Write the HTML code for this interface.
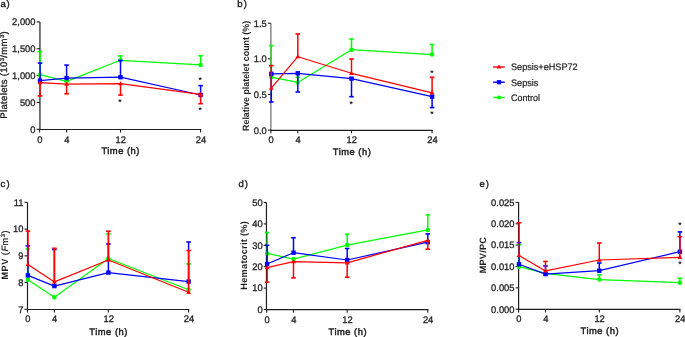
<!DOCTYPE html>
<html><head><meta charset="utf-8"><style>
html,body{margin:0;padding:0;background:#fff;overflow:hidden;}
svg{display:block;font-family:"Liberation Sans",sans-serif;text-rendering:geometricPrecision;will-change:transform;}
</style></head><body>
<svg width="685" height="337" viewBox="0 0 685 337">
<rect width="685" height="337" fill="#fff"/>
<text x="0.55" y="6.70" font-size="9.5" fill="#1e1e1e" stroke="#1e1e1e" stroke-width="0.4">a</text>
<text x="6.60" y="6.70" font-size="9.5" fill="#1e1e1e" stroke="#1e1e1e" stroke-width="0.35">)</text>
<line x1="39.95" y1="21.90" x2="39.95" y2="130.10" stroke="#1e1e1e" stroke-width="1.2" stroke-linecap="butt"/>
<line x1="39.35" y1="129.50" x2="201.20" y2="129.50" stroke="#1e1e1e" stroke-width="1.2" stroke-linecap="butt"/>
<line x1="36.60" y1="129.30" x2="39.95" y2="129.30" stroke="#1e1e1e" stroke-width="1.1" stroke-linecap="butt"/>
<text x="35.50" y="132.60" font-size="9.5" text-anchor="end" fill="#1e1e1e" textLength="5.2" lengthAdjust="spacingAndGlyphs" stroke="#1e1e1e" stroke-width="0.3">0</text>
<line x1="36.60" y1="102.45" x2="39.95" y2="102.45" stroke="#1e1e1e" stroke-width="1.1" stroke-linecap="butt"/>
<text x="35.50" y="105.75" font-size="9.5" text-anchor="end" fill="#1e1e1e" textLength="15.61" lengthAdjust="spacingAndGlyphs" stroke="#1e1e1e" stroke-width="0.3">500</text>
<line x1="36.60" y1="75.60" x2="39.95" y2="75.60" stroke="#1e1e1e" stroke-width="1.1" stroke-linecap="butt"/>
<text x="35.50" y="78.90" font-size="9.5" text-anchor="end" fill="#1e1e1e" textLength="23.41" lengthAdjust="spacingAndGlyphs" stroke="#1e1e1e" stroke-width="0.3">1,000</text>
<line x1="36.60" y1="48.75" x2="39.95" y2="48.75" stroke="#1e1e1e" stroke-width="1.1" stroke-linecap="butt"/>
<text x="35.50" y="52.05" font-size="9.5" text-anchor="end" fill="#1e1e1e" textLength="23.41" lengthAdjust="spacingAndGlyphs" stroke="#1e1e1e" stroke-width="0.3">1,500</text>
<line x1="36.60" y1="21.90" x2="39.95" y2="21.90" stroke="#1e1e1e" stroke-width="1.1" stroke-linecap="butt"/>
<text x="35.50" y="25.20" font-size="9.5" text-anchor="end" fill="#1e1e1e" textLength="23.41" lengthAdjust="spacingAndGlyphs" stroke="#1e1e1e" stroke-width="0.3">2,000</text>
<line x1="39.60" y1="129.30" x2="39.60" y2="132.50" stroke="#1e1e1e" stroke-width="1.1" stroke-linecap="butt"/>
<text x="39.90" y="142.80" font-size="9.5" text-anchor="middle" fill="#1e1e1e" textLength="5.2" lengthAdjust="spacingAndGlyphs" stroke="#1e1e1e" stroke-width="0.3">0</text>
<line x1="66.60" y1="129.30" x2="66.60" y2="132.50" stroke="#1e1e1e" stroke-width="1.1" stroke-linecap="butt"/>
<text x="66.90" y="142.80" font-size="9.5" text-anchor="middle" fill="#1e1e1e" textLength="5.2" lengthAdjust="spacingAndGlyphs" stroke="#1e1e1e" stroke-width="0.3">4</text>
<line x1="120.50" y1="129.30" x2="120.50" y2="132.50" stroke="#1e1e1e" stroke-width="1.1" stroke-linecap="butt"/>
<text x="120.80" y="142.80" font-size="9.5" text-anchor="middle" fill="#1e1e1e" textLength="10.41" lengthAdjust="spacingAndGlyphs" stroke="#1e1e1e" stroke-width="0.3">12</text>
<line x1="200.60" y1="129.30" x2="200.60" y2="132.50" stroke="#1e1e1e" stroke-width="1.1" stroke-linecap="butt"/>
<text x="200.90" y="142.80" font-size="9.5" text-anchor="middle" fill="#1e1e1e" textLength="10.41" lengthAdjust="spacingAndGlyphs" stroke="#1e1e1e" stroke-width="0.3">24</text>
<text x="120.40" y="154.20" font-size="9.4" text-anchor="middle" fill="#1e1e1e" textLength="38.0" lengthAdjust="spacing" stroke="#1e1e1e" stroke-width="0.45">Time (h)</text>
<text x="6.70" y="75.00" font-size="9.6" text-anchor="middle" fill="#1e1e1e" transform="rotate(-90 6.70 75.00)" textLength="87.5" lengthAdjust="spacing" stroke="#1e1e1e" stroke-width="0.3">Platelets (10<tspan font-size="6" dy="-3">3</tspan><tspan dy="3">/mm</tspan><tspan font-size="6" dy="-3">3</tspan><tspan dy="3">)</tspan></text>
<line x1="40.15" y1="74.70" x2="40.15" y2="51.50" stroke="#00ff00" stroke-width="1.3" stroke-linecap="butt"/>
<line x1="37.70" y1="51.50" x2="42.30" y2="51.50" stroke="#00ff00" stroke-width="1.6" stroke-linecap="butt"/>
<line x1="120.50" y1="60.30" x2="120.50" y2="55.90" stroke="#00ff00" stroke-width="1.5" stroke-linecap="butt"/>
<line x1="118.20" y1="55.90" x2="122.80" y2="55.90" stroke="#00ff00" stroke-width="1.6" stroke-linecap="butt"/>
<line x1="200.60" y1="64.90" x2="200.60" y2="55.70" stroke="#00ff00" stroke-width="1.5" stroke-linecap="butt"/>
<line x1="198.30" y1="55.70" x2="202.90" y2="55.70" stroke="#00ff00" stroke-width="1.6" stroke-linecap="butt"/>
<polyline points="40.00,74.70 66.60,81.40 120.50,60.30 200.60,64.90" fill="none" stroke="#00ff00" stroke-width="1.2" stroke-linejoin="round"/>
<circle cx="40.00" cy="74.70" r="2.25" fill="#00ff00"/>
<circle cx="66.60" cy="81.40" r="2.25" fill="#00ff00"/>
<circle cx="120.50" cy="60.30" r="2.25" fill="#00ff00"/>
<circle cx="200.60" cy="64.90" r="2.25" fill="#00ff00"/>
<line x1="40.15" y1="80.60" x2="40.15" y2="63.10" stroke="#0000ff" stroke-width="1.3" stroke-linecap="butt"/>
<line x1="37.70" y1="63.10" x2="42.30" y2="63.10" stroke="#0000ff" stroke-width="1.6" stroke-linecap="butt"/>
<line x1="66.60" y1="78.10" x2="66.60" y2="65.10" stroke="#0000ff" stroke-width="1.5" stroke-linecap="butt"/>
<line x1="64.30" y1="65.10" x2="68.90" y2="65.10" stroke="#0000ff" stroke-width="1.6" stroke-linecap="butt"/>
<line x1="120.50" y1="77.20" x2="120.50" y2="60.50" stroke="#0000ff" stroke-width="1.5" stroke-linecap="butt"/>
<line x1="118.20" y1="60.50" x2="122.80" y2="60.50" stroke="#0000ff" stroke-width="1.6" stroke-linecap="butt"/>
<line x1="200.60" y1="95.00" x2="200.60" y2="85.60" stroke="#0000ff" stroke-width="1.5" stroke-linecap="butt"/>
<line x1="198.30" y1="85.60" x2="202.90" y2="85.60" stroke="#0000ff" stroke-width="1.6" stroke-linecap="butt"/>
<polyline points="40.00,80.60 66.60,78.10 120.50,77.20 200.60,95.00" fill="none" stroke="#0000ff" stroke-width="1.2" stroke-linejoin="round"/>
<rect x="37.80" y="78.40" width="4.4" height="4.4" fill="#0000ff"/>
<rect x="64.40" y="75.90" width="4.4" height="4.4" fill="#0000ff"/>
<rect x="118.30" y="75.00" width="4.4" height="4.4" fill="#0000ff"/>
<rect x="198.40" y="92.80" width="4.4" height="4.4" fill="#0000ff"/>
<line x1="40.15" y1="82.70" x2="40.15" y2="95.90" stroke="#ff0000" stroke-width="1.3" stroke-linecap="butt"/>
<line x1="37.70" y1="95.90" x2="42.30" y2="95.90" stroke="#ff0000" stroke-width="1.6" stroke-linecap="butt"/>
<line x1="66.60" y1="84.20" x2="66.60" y2="93.80" stroke="#ff0000" stroke-width="1.5" stroke-linecap="butt"/>
<line x1="64.30" y1="93.80" x2="68.90" y2="93.80" stroke="#ff0000" stroke-width="1.6" stroke-linecap="butt"/>
<line x1="120.50" y1="83.70" x2="120.50" y2="95.10" stroke="#ff0000" stroke-width="1.5" stroke-linecap="butt"/>
<line x1="118.20" y1="95.10" x2="122.80" y2="95.10" stroke="#ff0000" stroke-width="1.6" stroke-linecap="butt"/>
<line x1="200.60" y1="94.30" x2="200.60" y2="103.70" stroke="#ff0000" stroke-width="1.5" stroke-linecap="butt"/>
<line x1="198.30" y1="103.70" x2="202.90" y2="103.70" stroke="#ff0000" stroke-width="1.6" stroke-linecap="butt"/>
<polyline points="40.00,82.70 66.60,84.20 120.50,83.70 200.60,94.30" fill="none" stroke="#ff0000" stroke-width="1.2" stroke-linejoin="round"/>
<polygon points="40.00,80.19 42.40,84.37 37.60,84.37" fill="#ff0000"/>
<polygon points="66.60,81.69 69.00,85.87 64.20,85.87" fill="#ff0000"/>
<polygon points="120.50,81.19 122.90,85.37 118.10,85.37" fill="#ff0000"/>
<polygon points="200.60,91.79 203.00,95.97 198.20,95.97" fill="#ff0000"/>
<text x="120.00" y="104.60" font-size="8.5" text-anchor="middle" font-weight="bold" fill="#1e1e1e">*</text>
<text x="200.10" y="83.30" font-size="8.5" text-anchor="middle" font-weight="bold" fill="#1e1e1e">*</text>
<text x="200.10" y="112.90" font-size="8.5" text-anchor="middle" font-weight="bold" fill="#1e1e1e">*</text>
<text x="237.25" y="6.70" font-size="9.5" fill="#1e1e1e" stroke="#1e1e1e" stroke-width="0.4">b</text>
<text x="243.70" y="6.70" font-size="9.5" fill="#1e1e1e" stroke="#1e1e1e" stroke-width="0.35">)</text>
<line x1="270.90" y1="23.21" x2="270.90" y2="130.90" stroke="#6a6a6a" stroke-width="1.2" stroke-linecap="butt"/>
<line x1="270.30" y1="130.30" x2="432.70" y2="130.30" stroke="#1e1e1e" stroke-width="1.2" stroke-linecap="butt"/>
<line x1="267.90" y1="130.10" x2="270.90" y2="130.10" stroke="#1e1e1e" stroke-width="1.1" stroke-linecap="butt"/>
<text x="266.80" y="133.70" font-size="9.5" text-anchor="end" fill="#1e1e1e" textLength="13.01" lengthAdjust="spacingAndGlyphs" stroke="#1e1e1e" stroke-width="0.3">0.0</text>
<line x1="267.90" y1="94.47" x2="270.90" y2="94.47" stroke="#1e1e1e" stroke-width="1.1" stroke-linecap="butt"/>
<text x="266.80" y="98.07" font-size="9.5" text-anchor="end" fill="#1e1e1e" textLength="13.01" lengthAdjust="spacingAndGlyphs" stroke="#1e1e1e" stroke-width="0.3">0.5</text>
<line x1="267.90" y1="58.84" x2="270.90" y2="58.84" stroke="#1e1e1e" stroke-width="1.1" stroke-linecap="butt"/>
<text x="266.80" y="62.44" font-size="9.5" text-anchor="end" fill="#1e1e1e" textLength="13.01" lengthAdjust="spacingAndGlyphs" stroke="#1e1e1e" stroke-width="0.3">1.0</text>
<line x1="267.90" y1="23.21" x2="270.90" y2="23.21" stroke="#1e1e1e" stroke-width="1.1" stroke-linecap="butt"/>
<text x="266.80" y="26.81" font-size="9.5" text-anchor="end" fill="#1e1e1e" textLength="13.01" lengthAdjust="spacingAndGlyphs" stroke="#1e1e1e" stroke-width="0.3">1.5</text>
<line x1="270.90" y1="130.10" x2="270.90" y2="133.30" stroke="#1e1e1e" stroke-width="1.1" stroke-linecap="butt"/>
<text x="271.20" y="143.30" font-size="9.5" text-anchor="middle" fill="#1e1e1e" textLength="5.2" lengthAdjust="spacingAndGlyphs" stroke="#1e1e1e" stroke-width="0.3">0</text>
<line x1="297.80" y1="130.10" x2="297.80" y2="133.30" stroke="#1e1e1e" stroke-width="1.1" stroke-linecap="butt"/>
<text x="298.10" y="143.30" font-size="9.5" text-anchor="middle" fill="#1e1e1e" textLength="5.2" lengthAdjust="spacingAndGlyphs" stroke="#1e1e1e" stroke-width="0.3">4</text>
<line x1="351.50" y1="130.10" x2="351.50" y2="133.30" stroke="#1e1e1e" stroke-width="1.1" stroke-linecap="butt"/>
<text x="351.80" y="143.30" font-size="9.5" text-anchor="middle" fill="#1e1e1e" textLength="10.41" lengthAdjust="spacingAndGlyphs" stroke="#1e1e1e" stroke-width="0.3">12</text>
<line x1="432.10" y1="130.10" x2="432.10" y2="133.30" stroke="#1e1e1e" stroke-width="1.1" stroke-linecap="butt"/>
<text x="432.40" y="143.30" font-size="9.5" text-anchor="middle" fill="#1e1e1e" textLength="10.41" lengthAdjust="spacingAndGlyphs" stroke="#1e1e1e" stroke-width="0.3">24</text>
<text x="351.80" y="155.30" font-size="9.4" text-anchor="middle" fill="#1e1e1e" textLength="38.0" lengthAdjust="spacing" stroke="#1e1e1e" stroke-width="0.45">Time (h)</text>
<text x="248.80" y="75.90" font-size="9.2" text-anchor="middle" font-weight="bold" fill="#1e1e1e" transform="rotate(-90 248.80 75.90)" textLength="110" lengthAdjust="spacingAndGlyphs">Relative platelet count (%)</text>
<line x1="271.30" y1="77.10" x2="271.30" y2="45.70" stroke="#00ff00" stroke-width="1.5" stroke-linecap="butt"/>
<line x1="269.00" y1="45.70" x2="273.60" y2="45.70" stroke="#00ff00" stroke-width="1.6" stroke-linecap="butt"/>
<line x1="297.80" y1="82.40" x2="297.80" y2="77.30" stroke="#00ff00" stroke-width="1.5" stroke-linecap="butt"/>
<line x1="295.50" y1="77.30" x2="300.10" y2="77.30" stroke="#00ff00" stroke-width="1.6" stroke-linecap="butt"/>
<line x1="351.50" y1="49.70" x2="351.50" y2="39.00" stroke="#00ff00" stroke-width="1.5" stroke-linecap="butt"/>
<line x1="349.20" y1="39.00" x2="353.80" y2="39.00" stroke="#00ff00" stroke-width="1.6" stroke-linecap="butt"/>
<line x1="432.10" y1="54.60" x2="432.10" y2="44.50" stroke="#00ff00" stroke-width="1.5" stroke-linecap="butt"/>
<line x1="429.80" y1="44.50" x2="434.40" y2="44.50" stroke="#00ff00" stroke-width="1.6" stroke-linecap="butt"/>
<polyline points="271.30,77.10 297.80,82.40 351.50,49.70 432.10,54.60" fill="none" stroke="#00ff00" stroke-width="1.2" stroke-linejoin="round"/>
<circle cx="271.30" cy="77.10" r="2.25" fill="#00ff00"/>
<circle cx="297.80" cy="82.40" r="2.25" fill="#00ff00"/>
<circle cx="351.50" cy="49.70" r="2.25" fill="#00ff00"/>
<circle cx="432.10" cy="54.60" r="2.25" fill="#00ff00"/>
<line x1="271.30" y1="73.80" x2="271.30" y2="102.00" stroke="#0000ff" stroke-width="1.5" stroke-linecap="butt"/>
<line x1="269.00" y1="102.00" x2="273.60" y2="102.00" stroke="#0000ff" stroke-width="1.6" stroke-linecap="butt"/>
<line x1="297.80" y1="73.30" x2="297.80" y2="92.00" stroke="#0000ff" stroke-width="1.5" stroke-linecap="butt"/>
<line x1="295.50" y1="92.00" x2="300.10" y2="92.00" stroke="#0000ff" stroke-width="1.6" stroke-linecap="butt"/>
<line x1="351.50" y1="78.60" x2="351.50" y2="96.70" stroke="#0000ff" stroke-width="1.5" stroke-linecap="butt"/>
<line x1="349.20" y1="96.70" x2="353.80" y2="96.70" stroke="#0000ff" stroke-width="1.6" stroke-linecap="butt"/>
<line x1="432.10" y1="96.60" x2="432.10" y2="107.60" stroke="#0000ff" stroke-width="1.5" stroke-linecap="butt"/>
<line x1="429.80" y1="107.60" x2="434.40" y2="107.60" stroke="#0000ff" stroke-width="1.6" stroke-linecap="butt"/>
<polyline points="271.30,73.80 297.80,73.30 351.50,78.60 432.10,96.60" fill="none" stroke="#0000ff" stroke-width="1.2" stroke-linejoin="round"/>
<rect x="269.10" y="71.60" width="4.4" height="4.4" fill="#0000ff"/>
<rect x="295.60" y="71.10" width="4.4" height="4.4" fill="#0000ff"/>
<rect x="349.30" y="76.40" width="4.4" height="4.4" fill="#0000ff"/>
<rect x="429.90" y="94.40" width="4.4" height="4.4" fill="#0000ff"/>
<line x1="271.30" y1="88.20" x2="271.30" y2="65.60" stroke="#ff0000" stroke-width="1.5" stroke-linecap="butt"/>
<line x1="269.00" y1="65.60" x2="273.60" y2="65.60" stroke="#ff0000" stroke-width="1.6" stroke-linecap="butt"/>
<line x1="297.80" y1="56.70" x2="297.80" y2="34.00" stroke="#ff0000" stroke-width="1.5" stroke-linecap="butt"/>
<line x1="295.50" y1="34.00" x2="300.10" y2="34.00" stroke="#ff0000" stroke-width="1.6" stroke-linecap="butt"/>
<line x1="351.50" y1="73.30" x2="351.50" y2="59.00" stroke="#ff0000" stroke-width="1.5" stroke-linecap="butt"/>
<line x1="349.20" y1="59.00" x2="353.80" y2="59.00" stroke="#ff0000" stroke-width="1.6" stroke-linecap="butt"/>
<line x1="432.10" y1="92.80" x2="432.10" y2="77.30" stroke="#ff0000" stroke-width="1.5" stroke-linecap="butt"/>
<line x1="429.80" y1="77.30" x2="434.40" y2="77.30" stroke="#ff0000" stroke-width="1.6" stroke-linecap="butt"/>
<polyline points="271.30,88.20 297.80,56.70 351.50,73.30 432.10,92.80" fill="none" stroke="#ff0000" stroke-width="1.2" stroke-linejoin="round"/>
<polygon points="271.30,85.69 273.70,89.87 268.90,89.87" fill="#ff0000"/>
<polygon points="297.80,54.19 300.20,58.37 295.40,58.37" fill="#ff0000"/>
<polygon points="351.50,70.79 353.90,74.97 349.10,74.97" fill="#ff0000"/>
<polygon points="432.10,90.29 434.50,94.47 429.70,94.47" fill="#ff0000"/>
<text x="351.20" y="107.00" font-size="8.5" text-anchor="middle" font-weight="bold" fill="#1e1e1e">*</text>
<text x="431.80" y="76.10" font-size="8.5" text-anchor="middle" font-weight="bold" fill="#1e1e1e">*</text>
<text x="431.80" y="116.70" font-size="8.5" text-anchor="middle" font-weight="bold" fill="#1e1e1e">*</text>
<line x1="493.10" y1="67.00" x2="504.80" y2="67.00" stroke="#ff0000" stroke-width="1.4" stroke-linecap="butt"/>
<polygon points="499.00,64.61 501.30,68.60 496.70,68.60" fill="#ff0000"/>
<text x="511.00" y="70.00" font-size="9.4" fill="#222" textLength="66.6" lengthAdjust="spacingAndGlyphs" stroke="#222" stroke-width="0.2">Sepsis+eHSP72</text>
<line x1="493.10" y1="82.20" x2="504.80" y2="82.20" stroke="#0000ff" stroke-width="1.4" stroke-linecap="butt"/>
<rect x="496.90" y="80.10" width="4.2" height="4.2" fill="#0000ff"/>
<text x="511.00" y="85.80" font-size="9.4" fill="#222" textLength="27.4" lengthAdjust="spacingAndGlyphs" stroke="#222" stroke-width="0.2">Sepsis</text>
<line x1="493.10" y1="97.50" x2="504.80" y2="97.50" stroke="#00ff00" stroke-width="1.4" stroke-linecap="butt"/>
<circle cx="499.00" cy="97.50" r="2.10" fill="#00ff00"/>
<text x="511.00" y="101.20" font-size="9.4" fill="#222" textLength="29.0" lengthAdjust="spacingAndGlyphs" stroke="#222" stroke-width="0.2">Control</text>
<text x="0.55" y="186.70" font-size="9.5" fill="#1e1e1e" stroke="#1e1e1e" stroke-width="0.4">c</text>
<text x="6.60" y="186.70" font-size="9.5" fill="#1e1e1e" stroke="#1e1e1e" stroke-width="0.35">)</text>
<line x1="27.50" y1="202.38" x2="27.50" y2="310.10" stroke="#1e1e1e" stroke-width="1.2" stroke-linecap="butt"/>
<line x1="26.90" y1="309.50" x2="189.20" y2="309.50" stroke="#1e1e1e" stroke-width="1.2" stroke-linecap="butt"/>
<line x1="24.50" y1="309.30" x2="27.50" y2="309.30" stroke="#1e1e1e" stroke-width="1.1" stroke-linecap="butt"/>
<text x="23.40" y="312.60" font-size="9.5" text-anchor="end" fill="#1e1e1e" textLength="5.2" lengthAdjust="spacingAndGlyphs" stroke="#1e1e1e" stroke-width="0.3">7</text>
<line x1="24.50" y1="282.57" x2="27.50" y2="282.57" stroke="#1e1e1e" stroke-width="1.1" stroke-linecap="butt"/>
<text x="23.40" y="285.87" font-size="9.5" text-anchor="end" fill="#1e1e1e" textLength="5.2" lengthAdjust="spacingAndGlyphs" stroke="#1e1e1e" stroke-width="0.3">8</text>
<line x1="24.50" y1="255.84" x2="27.50" y2="255.84" stroke="#1e1e1e" stroke-width="1.1" stroke-linecap="butt"/>
<text x="23.40" y="259.14" font-size="9.5" text-anchor="end" fill="#1e1e1e" textLength="5.2" lengthAdjust="spacingAndGlyphs" stroke="#1e1e1e" stroke-width="0.3">9</text>
<line x1="24.50" y1="229.11" x2="27.50" y2="229.11" stroke="#1e1e1e" stroke-width="1.1" stroke-linecap="butt"/>
<text x="23.40" y="232.41" font-size="9.5" text-anchor="end" fill="#1e1e1e" textLength="10.41" lengthAdjust="spacingAndGlyphs" stroke="#1e1e1e" stroke-width="0.3">10</text>
<line x1="24.50" y1="202.38" x2="27.50" y2="202.38" stroke="#1e1e1e" stroke-width="1.1" stroke-linecap="butt"/>
<text x="23.40" y="205.68" font-size="9.5" text-anchor="end" fill="#1e1e1e" textLength="9.71" lengthAdjust="spacingAndGlyphs" stroke="#1e1e1e" stroke-width="0.3">11</text>
<line x1="27.50" y1="309.30" x2="27.50" y2="312.50" stroke="#1e1e1e" stroke-width="1.1" stroke-linecap="butt"/>
<text x="27.80" y="322.40" font-size="9.5" text-anchor="middle" fill="#1e1e1e" textLength="5.2" lengthAdjust="spacingAndGlyphs" stroke="#1e1e1e" stroke-width="0.3">0</text>
<line x1="54.40" y1="309.30" x2="54.40" y2="312.50" stroke="#1e1e1e" stroke-width="1.1" stroke-linecap="butt"/>
<text x="54.70" y="322.40" font-size="9.5" text-anchor="middle" fill="#1e1e1e" textLength="5.2" lengthAdjust="spacingAndGlyphs" stroke="#1e1e1e" stroke-width="0.3">4</text>
<line x1="108.40" y1="309.30" x2="108.40" y2="312.50" stroke="#1e1e1e" stroke-width="1.1" stroke-linecap="butt"/>
<text x="108.70" y="322.40" font-size="9.5" text-anchor="middle" fill="#1e1e1e" textLength="10.41" lengthAdjust="spacingAndGlyphs" stroke="#1e1e1e" stroke-width="0.3">12</text>
<line x1="188.60" y1="309.30" x2="188.60" y2="312.50" stroke="#1e1e1e" stroke-width="1.1" stroke-linecap="butt"/>
<text x="188.90" y="322.40" font-size="9.5" text-anchor="middle" fill="#1e1e1e" textLength="10.41" lengthAdjust="spacingAndGlyphs" stroke="#1e1e1e" stroke-width="0.3">24</text>
<text x="108.35" y="334.50" font-size="9.4" text-anchor="middle" fill="#1e1e1e" textLength="38.0" lengthAdjust="spacing" stroke="#1e1e1e" stroke-width="0.45">Time (h)</text>
<text x="7.60" y="255.00" font-size="9.2" text-anchor="middle" font-weight="bold" fill="#1e1e1e" transform="rotate(-90 7.60 255.00)" textLength="49.1" lengthAdjust="spacing">MPV <tspan font-weight="normal" stroke="#1e1e1e" stroke-width="0.25">(<tspan font-style="italic">F</tspan>m<tspan font-size="6" dy="-3">3</tspan><tspan dy="3">)</tspan></tspan></text>
<line x1="28.05" y1="279.70" x2="28.05" y2="248.90" stroke="#00ff00" stroke-width="1.3" stroke-linecap="butt"/>
<line x1="25.60" y1="248.90" x2="30.20" y2="248.90" stroke="#00ff00" stroke-width="1.6" stroke-linecap="butt"/>
<line x1="108.40" y1="258.50" x2="108.40" y2="233.90" stroke="#00ff00" stroke-width="1.5" stroke-linecap="butt"/>
<line x1="106.10" y1="233.90" x2="110.70" y2="233.90" stroke="#00ff00" stroke-width="1.6" stroke-linecap="butt"/>
<line x1="188.60" y1="289.80" x2="188.60" y2="264.00" stroke="#00ff00" stroke-width="1.5" stroke-linecap="butt"/>
<line x1="186.30" y1="264.00" x2="190.90" y2="264.00" stroke="#00ff00" stroke-width="1.6" stroke-linecap="butt"/>
<polyline points="27.90,279.70 54.40,297.20 108.40,258.50 188.60,289.80" fill="none" stroke="#00ff00" stroke-width="1.2" stroke-linejoin="round"/>
<circle cx="27.90" cy="279.70" r="2.25" fill="#00ff00"/>
<circle cx="54.40" cy="297.20" r="2.25" fill="#00ff00"/>
<circle cx="108.40" cy="258.50" r="2.25" fill="#00ff00"/>
<circle cx="188.60" cy="289.80" r="2.25" fill="#00ff00"/>
<line x1="28.05" y1="275.40" x2="28.05" y2="245.90" stroke="#0000ff" stroke-width="1.3" stroke-linecap="butt"/>
<line x1="25.60" y1="245.90" x2="30.20" y2="245.90" stroke="#0000ff" stroke-width="1.6" stroke-linecap="butt"/>
<line x1="54.40" y1="286.10" x2="54.40" y2="249.50" stroke="#0000ff" stroke-width="1.5" stroke-linecap="butt"/>
<line x1="52.10" y1="249.50" x2="56.70" y2="249.50" stroke="#0000ff" stroke-width="1.6" stroke-linecap="butt"/>
<line x1="108.40" y1="272.60" x2="108.40" y2="244.00" stroke="#0000ff" stroke-width="1.5" stroke-linecap="butt"/>
<line x1="106.10" y1="244.00" x2="110.70" y2="244.00" stroke="#0000ff" stroke-width="1.6" stroke-linecap="butt"/>
<line x1="188.60" y1="281.60" x2="188.60" y2="242.00" stroke="#0000ff" stroke-width="1.5" stroke-linecap="butt"/>
<line x1="186.30" y1="242.00" x2="190.90" y2="242.00" stroke="#0000ff" stroke-width="1.6" stroke-linecap="butt"/>
<polyline points="27.90,275.40 54.40,286.10 108.40,272.60 188.60,281.60" fill="none" stroke="#0000ff" stroke-width="1.2" stroke-linejoin="round"/>
<rect x="25.70" y="273.20" width="4.4" height="4.4" fill="#0000ff"/>
<rect x="52.20" y="283.90" width="4.4" height="4.4" fill="#0000ff"/>
<rect x="106.20" y="270.40" width="4.4" height="4.4" fill="#0000ff"/>
<rect x="186.40" y="279.40" width="4.4" height="4.4" fill="#0000ff"/>
<line x1="28.05" y1="264.50" x2="28.05" y2="231.10" stroke="#ff0000" stroke-width="1.3" stroke-linecap="butt"/>
<line x1="25.60" y1="231.10" x2="30.20" y2="231.10" stroke="#ff0000" stroke-width="1.6" stroke-linecap="butt"/>
<line x1="54.40" y1="281.90" x2="54.40" y2="248.30" stroke="#ff0000" stroke-width="1.5" stroke-linecap="butt"/>
<line x1="52.10" y1="248.30" x2="56.70" y2="248.30" stroke="#ff0000" stroke-width="1.6" stroke-linecap="butt"/>
<line x1="108.40" y1="260.00" x2="108.40" y2="231.20" stroke="#ff0000" stroke-width="1.5" stroke-linecap="butt"/>
<line x1="106.10" y1="231.20" x2="110.70" y2="231.20" stroke="#ff0000" stroke-width="1.6" stroke-linecap="butt"/>
<line x1="188.60" y1="292.30" x2="188.60" y2="250.50" stroke="#ff0000" stroke-width="1.5" stroke-linecap="butt"/>
<line x1="186.30" y1="250.50" x2="190.90" y2="250.50" stroke="#ff0000" stroke-width="1.6" stroke-linecap="butt"/>
<polyline points="27.90,264.50 54.40,281.90 108.40,260.00 188.60,292.30" fill="none" stroke="#ff0000" stroke-width="1.2" stroke-linejoin="round"/>
<polygon points="27.90,261.99 30.30,266.17 25.50,266.17" fill="#ff0000"/>
<polygon points="54.40,279.39 56.80,283.57 52.00,283.57" fill="#ff0000"/>
<polygon points="108.40,257.49 110.80,261.67 106.00,261.67" fill="#ff0000"/>
<polygon points="188.60,289.79 191.00,293.97 186.20,293.97" fill="#ff0000"/>
<text x="238.55" y="186.70" font-size="9.5" fill="#1e1e1e" stroke="#1e1e1e" stroke-width="0.4">d</text>
<text x="244.80" y="186.70" font-size="9.5" fill="#1e1e1e" stroke="#1e1e1e" stroke-width="0.35">)</text>
<line x1="266.45" y1="202.50" x2="266.45" y2="310.30" stroke="#1e1e1e" stroke-width="1.2" stroke-linecap="butt"/>
<line x1="265.85" y1="309.70" x2="428.40" y2="309.70" stroke="#1e1e1e" stroke-width="1.2" stroke-linecap="butt"/>
<line x1="263.70" y1="309.50" x2="266.45" y2="309.50" stroke="#1e1e1e" stroke-width="1.1" stroke-linecap="butt"/>
<text x="262.60" y="312.80" font-size="9.5" text-anchor="end" fill="#1e1e1e" textLength="5.2" lengthAdjust="spacingAndGlyphs" stroke="#1e1e1e" stroke-width="0.3">0</text>
<line x1="263.70" y1="288.10" x2="266.45" y2="288.10" stroke="#1e1e1e" stroke-width="1.1" stroke-linecap="butt"/>
<text x="262.60" y="291.40" font-size="9.5" text-anchor="end" fill="#1e1e1e" textLength="10.41" lengthAdjust="spacingAndGlyphs" stroke="#1e1e1e" stroke-width="0.3">10</text>
<line x1="263.70" y1="266.70" x2="266.45" y2="266.70" stroke="#1e1e1e" stroke-width="1.1" stroke-linecap="butt"/>
<text x="262.60" y="270.00" font-size="9.5" text-anchor="end" fill="#1e1e1e" textLength="10.41" lengthAdjust="spacingAndGlyphs" stroke="#1e1e1e" stroke-width="0.3">20</text>
<line x1="263.70" y1="245.30" x2="266.45" y2="245.30" stroke="#1e1e1e" stroke-width="1.1" stroke-linecap="butt"/>
<text x="262.60" y="248.60" font-size="9.5" text-anchor="end" fill="#1e1e1e" textLength="10.41" lengthAdjust="spacingAndGlyphs" stroke="#1e1e1e" stroke-width="0.3">30</text>
<line x1="263.70" y1="223.90" x2="266.45" y2="223.90" stroke="#1e1e1e" stroke-width="1.1" stroke-linecap="butt"/>
<text x="262.60" y="227.20" font-size="9.5" text-anchor="end" fill="#1e1e1e" textLength="10.41" lengthAdjust="spacingAndGlyphs" stroke="#1e1e1e" stroke-width="0.3">40</text>
<line x1="263.70" y1="202.50" x2="266.45" y2="202.50" stroke="#1e1e1e" stroke-width="1.1" stroke-linecap="butt"/>
<text x="262.60" y="205.80" font-size="9.5" text-anchor="end" fill="#1e1e1e" textLength="10.41" lengthAdjust="spacingAndGlyphs" stroke="#1e1e1e" stroke-width="0.3">50</text>
<line x1="266.70" y1="309.50" x2="266.70" y2="312.70" stroke="#1e1e1e" stroke-width="1.1" stroke-linecap="butt"/>
<text x="267.00" y="322.60" font-size="9.5" text-anchor="middle" fill="#1e1e1e" textLength="5.2" lengthAdjust="spacingAndGlyphs" stroke="#1e1e1e" stroke-width="0.3">0</text>
<line x1="293.50" y1="309.50" x2="293.50" y2="312.70" stroke="#1e1e1e" stroke-width="1.1" stroke-linecap="butt"/>
<text x="293.80" y="322.60" font-size="9.5" text-anchor="middle" fill="#1e1e1e" textLength="5.2" lengthAdjust="spacingAndGlyphs" stroke="#1e1e1e" stroke-width="0.3">4</text>
<line x1="347.20" y1="309.50" x2="347.20" y2="312.70" stroke="#1e1e1e" stroke-width="1.1" stroke-linecap="butt"/>
<text x="347.50" y="322.60" font-size="9.5" text-anchor="middle" fill="#1e1e1e" textLength="10.41" lengthAdjust="spacingAndGlyphs" stroke="#1e1e1e" stroke-width="0.3">12</text>
<line x1="427.80" y1="309.50" x2="427.80" y2="312.70" stroke="#1e1e1e" stroke-width="1.1" stroke-linecap="butt"/>
<text x="428.10" y="322.60" font-size="9.5" text-anchor="middle" fill="#1e1e1e" textLength="10.41" lengthAdjust="spacingAndGlyphs" stroke="#1e1e1e" stroke-width="0.3">24</text>
<text x="347.55" y="334.70" font-size="9.4" text-anchor="middle" fill="#1e1e1e" textLength="38.0" lengthAdjust="spacing" stroke="#1e1e1e" stroke-width="0.45">Time (h)</text>
<text x="247.00" y="255.50" font-size="9.2" text-anchor="middle" font-weight="bold" fill="#1e1e1e" transform="rotate(-90 247.00 255.50)" textLength="68.5" lengthAdjust="spacing">Hematocrit (%)</text>
<line x1="267.25" y1="253.40" x2="267.25" y2="232.50" stroke="#00ff00" stroke-width="1.3" stroke-linecap="butt"/>
<line x1="264.80" y1="232.50" x2="269.40" y2="232.50" stroke="#00ff00" stroke-width="1.6" stroke-linecap="butt"/>
<line x1="347.20" y1="245.10" x2="347.20" y2="234.30" stroke="#00ff00" stroke-width="1.5" stroke-linecap="butt"/>
<line x1="344.90" y1="234.30" x2="349.50" y2="234.30" stroke="#00ff00" stroke-width="1.6" stroke-linecap="butt"/>
<line x1="427.80" y1="229.90" x2="427.80" y2="214.80" stroke="#00ff00" stroke-width="1.5" stroke-linecap="butt"/>
<line x1="425.50" y1="214.80" x2="430.10" y2="214.80" stroke="#00ff00" stroke-width="1.6" stroke-linecap="butt"/>
<polyline points="267.10,253.40 293.50,259.10 347.20,245.10 427.80,229.90" fill="none" stroke="#00ff00" stroke-width="1.2" stroke-linejoin="round"/>
<circle cx="267.10" cy="253.40" r="2.25" fill="#00ff00"/>
<circle cx="293.50" cy="259.10" r="2.25" fill="#00ff00"/>
<circle cx="347.20" cy="245.10" r="2.25" fill="#00ff00"/>
<circle cx="427.80" cy="229.90" r="2.25" fill="#00ff00"/>
<line x1="267.25" y1="264.00" x2="267.25" y2="245.30" stroke="#0000ff" stroke-width="1.3" stroke-linecap="butt"/>
<line x1="264.80" y1="245.30" x2="269.40" y2="245.30" stroke="#0000ff" stroke-width="1.6" stroke-linecap="butt"/>
<line x1="293.50" y1="252.70" x2="293.50" y2="237.80" stroke="#0000ff" stroke-width="1.5" stroke-linecap="butt"/>
<line x1="291.20" y1="237.80" x2="295.80" y2="237.80" stroke="#0000ff" stroke-width="1.6" stroke-linecap="butt"/>
<line x1="347.20" y1="260.00" x2="347.20" y2="248.50" stroke="#0000ff" stroke-width="1.5" stroke-linecap="butt"/>
<line x1="344.90" y1="248.50" x2="349.50" y2="248.50" stroke="#0000ff" stroke-width="1.6" stroke-linecap="butt"/>
<line x1="427.80" y1="242.20" x2="427.80" y2="233.90" stroke="#0000ff" stroke-width="1.5" stroke-linecap="butt"/>
<line x1="425.50" y1="233.90" x2="430.10" y2="233.90" stroke="#0000ff" stroke-width="1.6" stroke-linecap="butt"/>
<polyline points="267.10,264.00 293.50,252.70 347.20,260.00 427.80,242.20" fill="none" stroke="#0000ff" stroke-width="1.2" stroke-linejoin="round"/>
<rect x="264.90" y="261.80" width="4.4" height="4.4" fill="#0000ff"/>
<rect x="291.30" y="250.50" width="4.4" height="4.4" fill="#0000ff"/>
<rect x="345.00" y="257.80" width="4.4" height="4.4" fill="#0000ff"/>
<rect x="425.60" y="240.00" width="4.4" height="4.4" fill="#0000ff"/>
<line x1="267.25" y1="267.60" x2="267.25" y2="282.20" stroke="#ff0000" stroke-width="1.3" stroke-linecap="butt"/>
<line x1="264.80" y1="282.20" x2="269.40" y2="282.20" stroke="#ff0000" stroke-width="1.6" stroke-linecap="butt"/>
<line x1="293.50" y1="261.60" x2="293.50" y2="277.90" stroke="#ff0000" stroke-width="1.5" stroke-linecap="butt"/>
<line x1="291.20" y1="277.90" x2="295.80" y2="277.90" stroke="#ff0000" stroke-width="1.6" stroke-linecap="butt"/>
<line x1="347.20" y1="262.80" x2="347.20" y2="277.20" stroke="#ff0000" stroke-width="1.5" stroke-linecap="butt"/>
<line x1="344.90" y1="277.20" x2="349.50" y2="277.20" stroke="#ff0000" stroke-width="1.6" stroke-linecap="butt"/>
<line x1="427.80" y1="240.30" x2="427.80" y2="249.20" stroke="#ff0000" stroke-width="1.5" stroke-linecap="butt"/>
<line x1="425.50" y1="249.20" x2="430.10" y2="249.20" stroke="#ff0000" stroke-width="1.6" stroke-linecap="butt"/>
<polyline points="267.10,267.60 293.50,261.60 347.20,262.80 427.80,240.30" fill="none" stroke="#ff0000" stroke-width="1.2" stroke-linejoin="round"/>
<polygon points="267.10,265.09 269.50,269.27 264.70,269.27" fill="#ff0000"/>
<polygon points="293.50,259.09 295.90,263.27 291.10,263.27" fill="#ff0000"/>
<polygon points="347.20,260.29 349.60,264.47 344.80,264.47" fill="#ff0000"/>
<polygon points="427.80,237.79 430.20,241.97 425.40,241.97" fill="#ff0000"/>
<text x="479.60" y="186.70" font-size="9.5" fill="#1e1e1e" stroke="#1e1e1e" stroke-width="0.4">e</text>
<text x="485.80" y="186.70" font-size="9.5" fill="#1e1e1e" stroke="#1e1e1e" stroke-width="0.35">)</text>
<line x1="518.60" y1="202.45" x2="518.60" y2="310.00" stroke="#1e1e1e" stroke-width="1.2" stroke-linecap="butt"/>
<line x1="518.00" y1="309.40" x2="680.50" y2="309.40" stroke="#1e1e1e" stroke-width="1.2" stroke-linecap="butt"/>
<line x1="515.60" y1="309.20" x2="518.60" y2="309.20" stroke="#1e1e1e" stroke-width="1.1" stroke-linecap="butt"/>
<text x="514.50" y="312.50" font-size="9.5" text-anchor="end" fill="#1e1e1e" textLength="23.41" lengthAdjust="spacingAndGlyphs" stroke="#1e1e1e" stroke-width="0.3">0.000</text>
<line x1="515.60" y1="287.85" x2="518.60" y2="287.85" stroke="#1e1e1e" stroke-width="1.1" stroke-linecap="butt"/>
<text x="514.50" y="291.15" font-size="9.5" text-anchor="end" fill="#1e1e1e" textLength="23.41" lengthAdjust="spacingAndGlyphs" stroke="#1e1e1e" stroke-width="0.3">0.005</text>
<line x1="515.60" y1="266.50" x2="518.60" y2="266.50" stroke="#1e1e1e" stroke-width="1.1" stroke-linecap="butt"/>
<text x="514.50" y="269.80" font-size="9.5" text-anchor="end" fill="#1e1e1e" textLength="23.41" lengthAdjust="spacingAndGlyphs" stroke="#1e1e1e" stroke-width="0.3">0.010</text>
<line x1="515.60" y1="245.15" x2="518.60" y2="245.15" stroke="#1e1e1e" stroke-width="1.1" stroke-linecap="butt"/>
<text x="514.50" y="248.45" font-size="9.5" text-anchor="end" fill="#1e1e1e" textLength="23.41" lengthAdjust="spacingAndGlyphs" stroke="#1e1e1e" stroke-width="0.3">0.015</text>
<line x1="515.60" y1="223.80" x2="518.60" y2="223.80" stroke="#1e1e1e" stroke-width="1.1" stroke-linecap="butt"/>
<text x="514.50" y="227.10" font-size="9.5" text-anchor="end" fill="#1e1e1e" textLength="23.41" lengthAdjust="spacingAndGlyphs" stroke="#1e1e1e" stroke-width="0.3">0.020</text>
<line x1="515.60" y1="202.45" x2="518.60" y2="202.45" stroke="#1e1e1e" stroke-width="1.1" stroke-linecap="butt"/>
<text x="514.50" y="205.75" font-size="9.5" text-anchor="end" fill="#1e1e1e" textLength="23.41" lengthAdjust="spacingAndGlyphs" stroke="#1e1e1e" stroke-width="0.3">0.025</text>
<line x1="518.60" y1="309.20" x2="518.60" y2="312.40" stroke="#1e1e1e" stroke-width="1.1" stroke-linecap="butt"/>
<text x="518.90" y="322.30" font-size="9.5" text-anchor="middle" fill="#1e1e1e" textLength="5.2" lengthAdjust="spacingAndGlyphs" stroke="#1e1e1e" stroke-width="0.3">0</text>
<line x1="545.50" y1="309.20" x2="545.50" y2="312.40" stroke="#1e1e1e" stroke-width="1.1" stroke-linecap="butt"/>
<text x="545.80" y="322.30" font-size="9.5" text-anchor="middle" fill="#1e1e1e" textLength="5.2" lengthAdjust="spacingAndGlyphs" stroke="#1e1e1e" stroke-width="0.3">4</text>
<line x1="599.30" y1="309.20" x2="599.30" y2="312.40" stroke="#1e1e1e" stroke-width="1.1" stroke-linecap="butt"/>
<text x="599.60" y="322.30" font-size="9.5" text-anchor="middle" fill="#1e1e1e" textLength="10.41" lengthAdjust="spacingAndGlyphs" stroke="#1e1e1e" stroke-width="0.3">12</text>
<line x1="679.90" y1="309.20" x2="679.90" y2="312.40" stroke="#1e1e1e" stroke-width="1.1" stroke-linecap="butt"/>
<text x="680.20" y="322.30" font-size="9.5" text-anchor="middle" fill="#1e1e1e" textLength="10.41" lengthAdjust="spacingAndGlyphs" stroke="#1e1e1e" stroke-width="0.3">24</text>
<text x="599.55" y="334.40" font-size="9.4" text-anchor="middle" fill="#1e1e1e" textLength="38.0" lengthAdjust="spacing" stroke="#1e1e1e" stroke-width="0.45">Time (h)</text>
<text x="486.40" y="255.20" font-size="9.2" text-anchor="middle" font-weight="bold" fill="#1e1e1e" transform="rotate(-90 486.40 255.20)" textLength="36.3" lengthAdjust="spacing">MPV/PC</text>
<line x1="519.15" y1="266.70" x2="519.15" y2="244.70" stroke="#00ff00" stroke-width="1.3" stroke-linecap="butt"/>
<line x1="516.70" y1="244.70" x2="521.30" y2="244.70" stroke="#00ff00" stroke-width="1.6" stroke-linecap="butt"/>
<line x1="545.50" y1="273.40" x2="545.50" y2="270.50" stroke="#00ff00" stroke-width="1.5" stroke-linecap="butt"/>
<line x1="543.20" y1="270.50" x2="547.80" y2="270.50" stroke="#00ff00" stroke-width="1.6" stroke-linecap="butt"/>
<line x1="599.30" y1="279.60" x2="599.30" y2="274.90" stroke="#00ff00" stroke-width="1.5" stroke-linecap="butt"/>
<line x1="597.00" y1="274.90" x2="601.60" y2="274.90" stroke="#00ff00" stroke-width="1.6" stroke-linecap="butt"/>
<line x1="679.90" y1="282.70" x2="679.90" y2="278.30" stroke="#00ff00" stroke-width="1.5" stroke-linecap="butt"/>
<line x1="677.60" y1="278.30" x2="682.20" y2="278.30" stroke="#00ff00" stroke-width="1.6" stroke-linecap="butt"/>
<polyline points="519.00,266.70 545.50,273.40 599.30,279.60 679.90,282.70" fill="none" stroke="#00ff00" stroke-width="1.2" stroke-linejoin="round"/>
<circle cx="519.00" cy="266.70" r="2.25" fill="#00ff00"/>
<circle cx="545.50" cy="273.40" r="2.25" fill="#00ff00"/>
<circle cx="599.30" cy="279.60" r="2.25" fill="#00ff00"/>
<circle cx="679.90" cy="282.70" r="2.25" fill="#00ff00"/>
<line x1="519.15" y1="264.30" x2="519.15" y2="242.60" stroke="#0000ff" stroke-width="1.3" stroke-linecap="butt"/>
<line x1="516.70" y1="242.60" x2="521.30" y2="242.60" stroke="#0000ff" stroke-width="1.6" stroke-linecap="butt"/>
<line x1="545.50" y1="274.10" x2="545.50" y2="266.00" stroke="#0000ff" stroke-width="1.5" stroke-linecap="butt"/>
<line x1="543.20" y1="266.00" x2="547.80" y2="266.00" stroke="#0000ff" stroke-width="1.6" stroke-linecap="butt"/>
<line x1="599.30" y1="270.70" x2="599.30" y2="263.00" stroke="#0000ff" stroke-width="1.5" stroke-linecap="butt"/>
<line x1="597.00" y1="263.00" x2="601.60" y2="263.00" stroke="#0000ff" stroke-width="1.6" stroke-linecap="butt"/>
<line x1="679.90" y1="251.70" x2="679.90" y2="231.90" stroke="#0000ff" stroke-width="1.5" stroke-linecap="butt"/>
<line x1="677.60" y1="231.90" x2="682.20" y2="231.90" stroke="#0000ff" stroke-width="1.6" stroke-linecap="butt"/>
<polyline points="519.00,264.30 545.50,274.10 599.30,270.70 679.90,251.70" fill="none" stroke="#0000ff" stroke-width="1.2" stroke-linejoin="round"/>
<rect x="516.80" y="262.10" width="4.4" height="4.4" fill="#0000ff"/>
<rect x="543.30" y="271.90" width="4.4" height="4.4" fill="#0000ff"/>
<rect x="597.10" y="268.50" width="4.4" height="4.4" fill="#0000ff"/>
<rect x="677.70" y="249.50" width="4.4" height="4.4" fill="#0000ff"/>
<line x1="519.15" y1="255.40" x2="519.15" y2="222.70" stroke="#ff0000" stroke-width="1.3" stroke-linecap="butt"/>
<line x1="516.70" y1="222.70" x2="521.30" y2="222.70" stroke="#ff0000" stroke-width="1.6" stroke-linecap="butt"/>
<line x1="545.50" y1="270.90" x2="545.50" y2="261.40" stroke="#ff0000" stroke-width="1.5" stroke-linecap="butt"/>
<line x1="543.20" y1="261.40" x2="547.80" y2="261.40" stroke="#ff0000" stroke-width="1.6" stroke-linecap="butt"/>
<line x1="599.30" y1="260.00" x2="599.30" y2="243.00" stroke="#ff0000" stroke-width="1.5" stroke-linecap="butt"/>
<line x1="597.00" y1="243.00" x2="601.60" y2="243.00" stroke="#ff0000" stroke-width="1.6" stroke-linecap="butt"/>
<line x1="679.90" y1="257.30" x2="679.90" y2="236.80" stroke="#ff0000" stroke-width="1.5" stroke-linecap="butt"/>
<line x1="677.60" y1="236.80" x2="682.20" y2="236.80" stroke="#ff0000" stroke-width="1.6" stroke-linecap="butt"/>
<polyline points="519.00,255.40 545.50,270.90 599.30,260.00 679.90,257.30" fill="none" stroke="#ff0000" stroke-width="1.2" stroke-linejoin="round"/>
<polygon points="519.00,252.89 521.40,257.07 516.60,257.07" fill="#ff0000"/>
<polygon points="545.50,268.39 547.90,272.57 543.10,272.57" fill="#ff0000"/>
<polygon points="599.30,257.49 601.70,261.67 596.90,261.67" fill="#ff0000"/>
<polygon points="679.90,254.79 682.30,258.97 677.50,258.97" fill="#ff0000"/>
<text x="679.80" y="227.80" font-size="8.5" text-anchor="middle" font-weight="bold" fill="#1e1e1e">*</text>
<text x="679.80" y="267.30" font-size="8.5" text-anchor="middle" font-weight="bold" fill="#1e1e1e">*</text>
</svg>
</body></html>
